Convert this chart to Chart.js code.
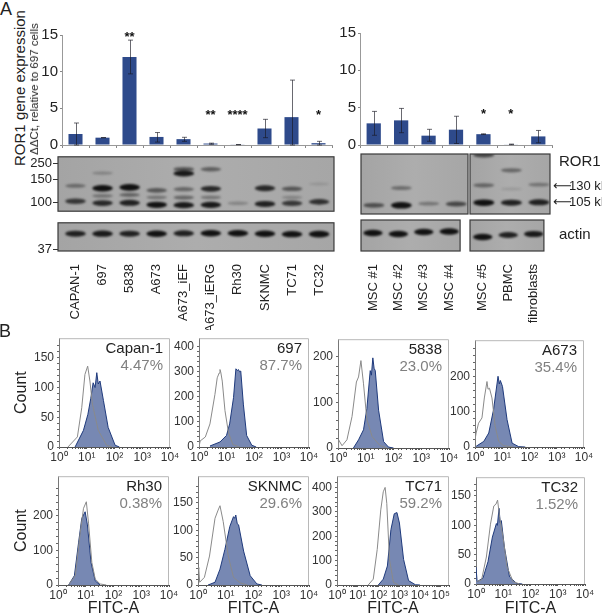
<!DOCTYPE html>
<html>
<head>
<meta charset="utf-8">
<title>ROR1 expression</title>
<script src="https://cdn.jsdelivr.net/npm/chart.js@4"></script>
<style>
html, body { margin: 0; background: #fff; overflow: hidden; width: 602px; height: 616px; }
canvas { position: absolute; }
.lbl { position: absolute; white-space: nowrap; color: #222; font-family: 'Liberation Sans Narrow', 'Liberation Sans', sans-serif; }
</style>
</head>
<body>
<script>
const NARROW = "'Liberation Sans Narrow', 'Liberation Sans', sans-serif";

// bar values, part A
const tumourLanes = ['CAPAN-1', '697', '5838', 'A673', 'A673_iEF', 'A673_iERG', 'Rh30', 'SKNMC', 'TC71', 'TC32'];
const tumourExpr = [1.5, 1.0, 12, 1.1, 0.8, 0.2, 0.05, 2.25, 3.8, 0.25];
const tumourHigh = [3.0, 1.0, 14.3, 1.7, 1.05, 0.25, 0.05, 3.5, 8.85, 0.5];
const tumourLow = [0, 1.0, 9.7, 0.4, 0.5, 0.1, 0.05, 1.0, 0, 0];
const tumourStars = ['', '', '**', '', '', '**', '****', '', '', '*'];
const tumourStarAt = [0, 0, 14.9, 0, 0, 4.3, 4.3, 0, 0, 4.3];

const normalLanes = ['MSC #1', 'MSC #2', 'MSC #3', 'MSC #4', 'MSC #5', 'PBMC', 'fibroblasts'];
const normalExpr = [2.9, 3.3, 1.25, 2.05, 1.45, 0.08, 1.15];
const normalHigh = [4.5, 4.9, 2.1, 3.85, 1.5, 0.12, 1.95];
const normalLow = [1.3, 1.65, 0.5, 0.2, 1.4, 0.05, 0.3];
const normalStars = ['', '', '', '', '*', '*', ''];
const normalStarAt = [0, 0, 0, 0, 4.3, 4.3, 0];

// western blot bands: [lane, migration, darkness]
const ror1Bands = [
  [0, 32, .35], [0, 49, .7],
  [1, 18, .2], [1, 34.7, 1], [1, 43, .3], [1, 51, .8],
  [2, 33.7, 1], [2, 42, .4], [2, 50.7, .85],
  [3, 37, .5], [3, 44.7, .3], [3, 53, .95],
  [4, 13.7, .5], [4, 18.3, .9], [4, 35.7, .4], [4, 45, .4], [4, 53.3, .9],
  [5, 13.7, .45], [5, 35.3, .8], [5, 44.7, .3], [5, 53, .9],
  [6, 51.3, .2],
  [7, 34.7, .8], [7, 52, .85],
  [8, 35.3, .5], [8, 44.7, .2], [8, 51.3, .7],
  [9, 49.7, .75], [9, 30, .07]
];
const actinBands = [[0, 12, .85], [1, 12, .9], [2, 12, .85], [3, 12, 1], [4, 11.5, .85], [5, 11.5, 1], [6, 11.5, 1], [7, 12, .95], [8, 12.5, .95], [9, 12.5, 1]];
const mscBands = [[0, 51.3, .55], [1, 34, .35], [1, 51.3, 1], [2, 49.7, .3], [3, 50, .6]];
const mscActin = [[0, 13, 1], [1, 14, 1], [2, 12, .95], [3, 11.5, 1]];
const otherBands = [[0, 1, .6], [0, 31.3, .4], [0, 48.7, 1], [1, 16.3, .4], [1, 35, .07], [1, 48.7, .85], [2, 30.7, .3], [2, 48.3, .85]];
const otherActin = [[0, 17, .95], [1, 15, .85], [2, 14, .9]];
const mwTop = [[7, '250'], [25, '150'], [50, '100']];
const mwActin = [[29, '37']];

// flow cytometry histograms, part B: fluorescence (x) and count (y)
const capanIsoX = [2.1, 4.6, 6.6, 8.6, 10.8, 13, 16, 26, 52, 80];
const capanIsoY = [0, 17, 66, 122, 136, 111, 72, 28, 3, 0];
const capanRorX = [3.8, 7.6, 11, 14, 17, 20, 23, 26, 30, 40, 59, 105, 150];
const capanRorY = [0, 28, 55, 82, 108, 100, 125, 106, 111, 78, 33, 3, 0];

const b697IsoX = [1, 1.1, 1.7, 2.5, 3.8, 4.6, 5.4, 5.8, 6.2, 7, 8.8, 11.7, 17, 30];
const b697IsoY = [0, 24, 40, 92, 210, 276, 295, 309, 298, 263, 145, 59, 10, 0];
const b697RorX = [2.5, 5.8, 10, 13, 18, 22, 25, 27, 30, 33, 41, 54, 83, 120];
const b697RorY = [4, 20, 46, 92, 197, 312, 305, 309, 300, 303, 171, 46, 7, 0];

const b5838IsoX = [1, 1.05, 1.4, 2.1, 3.2, 4.6, 5.5, 6.7, 8.3, 11, 17, 33, 60];
const b5838IsoY = [0, 18, 5, 18, 69, 145, 156, 192, 141, 62, 25, 5, 0];
const b5838RorX = [3.6, 5.5, 8.3, 11, 14.5, 16, 18, 20, 22, 29, 44, 66, 100];
const b5838RorY = [0, 18, 40, 87, 170, 160, 198, 175, 170, 83, 14, 2, 0];

const a673IsoX = [1, 1.1, 1.35, 1.8, 2.2, 2.75, 3, 3.4, 4.2, 5.5, 7.4, 11, 25];
const a673IsoY = [20, 40, 68, 83, 140, 187, 165, 168, 140, 59, 16, 4, 0];
const a673RorX = [1.1, 2.1, 3.2, 4.8, 7, 7.8, 8.5, 10.2, 15, 23, 40, 70];
const a673RorY = [2, 16, 40, 107, 202, 180, 190, 173, 78, 11, 1, 0];

const rh30IsoX = [2.4, 4.2, 6.3, 8.3, 10.5, 12.6, 16.6, 22, 33, 55];
const rh30IsoY = [0, 27, 150, 222, 241, 179, 65, 17, 3, 0];
const rh30RorX = [2.4, 3.9, 5.5, 7.2, 9.5, 11.5, 15.5, 22, 33];
const rh30RorY = [0, 27, 122, 193, 212, 174, 65, 12, 0];

const sknmcIsoX = [1, 1.07, 1.15, 1.7, 2.6, 4.1, 5.3, 6.2, 8.1, 12.3, 19, 33, 60];
const sknmcIsoY = [32, 29, 5, 14, 53, 122, 137, 145, 116, 53, 14, 4, 0];
const sknmcRorX = [2.3, 4.1, 6.2, 9.3, 14, 19, 21, 23, 26, 29, 44, 76, 132, 200];
const sknmcRorY = [0, 5, 29, 65, 107, 125, 122, 128, 112, 110, 62, 17, 2, 0];

const tc71IsoX = [32, 56, 87, 129, 170, 209, 251, 339, 525, 933];
const tc71IsoY = [0, 24, 146, 308, 382, 400, 335, 105, 11, 0];
const tc71RorX = [98, 170, 269, 398, 575, 776, 1023, 1622, 2818, 6026, 10000];
const tc71RorY = [0, 24, 78, 227, 292, 297, 254, 105, 18, 1, 0];

const tc32IsoX = [1.03, 1.6, 2.4, 3.4, 4.5, 5.4, 6.2, 7.4, 9.8, 13.8, 23, 40];
const tc32IsoY = [4, 7, 46, 102, 133, 136, 143, 113, 80, 29, 4, 0];
const tc32RorX = [1, 1.1, 1.8, 2.75, 4, 5.6, 6.1, 7, 7.7, 8.5, 11, 17, 31, 50];
const tc32RorY = [29, 4, 10, 38, 80, 103, 100, 129, 105, 108, 63, 12, 1, 0];

function label(text, x, y, size, opt) {
  opt = opt || {};
  const d = document.createElement('div');
  d.className = 'lbl';
  d.textContent = text;
  d.style.left = x + 'px';
  d.style.top = y + 'px';
  d.style.fontSize = size + 'px';
  if (opt.font) d.style.fontFamily = opt.font;
  const ax = opt.left ? '0' : '-50%';
  d.style.transform = 'translate(' + ax + ',-50%)' + (opt.rot ? ' rotate(-90deg)' : '');
  document.body.appendChild(d);
}

// puts the plot area exactly on plot, with the canvas covering box
function addChart(box, plot, config) {
  const c = document.createElement('canvas');
  c.width = box.r - box.l;
  c.height = box.b - box.t;
  c.style.left = box.l + 'px';
  c.style.top = box.t + 'px';
  document.body.appendChild(c);
  config.options.responsive = false;
  config.options.animation = false;
  config.options.layout = { padding: { top: plot.t - box.t, right: box.r - plot.r } };
  config.options.scales.x.afterFit = s => { s.height = box.b - plot.b };
  config.options.scales.y.afterFit = s => { s.width = plot.l - box.l };
  return new Chart(c, config);
}

const errorBars = {
  id: 'errorBars',
  afterDatasetsDraw(chart, args, opts) {
    const { ctx, scales: { x, y } } = chart;
    ctx.save();
    ctx.strokeStyle = 'rgba(25,25,35,.65)';
    ctx.lineWidth = 1;
    opts.high.forEach((h, i) => {
      const px = Math.round(x.getPixelForValue(i)) + .5;
      const top = y.getPixelForValue(h), low = y.getPixelForValue(opts.low[i]);
      ctx.beginPath();
      ctx.moveTo(px, top); ctx.lineTo(px, low);
      ctx.moveTo(px - 2.5, top); ctx.lineTo(px + 2.5, top);
      ctx.moveTo(px - 2.5, low); ctx.lineTo(px + 2.5, low);
      ctx.stroke();
    });
    ctx.fillStyle = '#111';
    ctx.font = 'bold 13px "Liberation Sans"';
    ctx.textAlign = 'center';
    ctx.textBaseline = 'middle';
    opts.stars.forEach((s, i) => {
      if (s) ctx.fillText(s, x.getPixelForValue(i), y.getPixelForValue(opts.starAt[i]) + 2);
    });
    ctx.restore();
  }
};

function barChart(box, plot, lanes, expr, high, low, stars, starAt) {
  addChart(box, plot, {
    type: 'bar',
    data: { labels: lanes, datasets: [{ data: expr, backgroundColor: '#2e4a8b', categoryPercentage: 1, barPercentage: 0.52 }] },
    plugins: [errorBars],
    options: {
      plugins: { legend: { display: false }, tooltip: { enabled: false }, errorBars: { high, low, stars, starAt } },
      scales: {
        x: {
          ticks: { display: false },
          grid: { drawOnChartArea: false, tickLength: 3, color: '#888' },
          border: { color: '#999' }
        },
        y: {
          min: 0, max: 15,
          ticks: { stepSize: 5, padding: 2, color: '#222', font: { family: NARROW, size: 15 } },
          grid: { drawOnChartArea: false, tickLength: 2, color: '#888' },
          border: { color: '#999' }
        }
      }
    }
  });
}

const blotPaint = {
  id: 'blotPaint',
  beforeDatasetsDraw(chart) {
    const { ctx, chartArea: a } = chart;
    const g = ctx.createLinearGradient(a.left, 0, a.right, 0);
    g.addColorStop(0, '#a4a4a4');
    g.addColorStop(.5, '#adadad');
    g.addColorStop(1, '#a6a6a6');
    ctx.fillStyle = g;
    ctx.fillRect(a.left, a.top, a.right - a.left, a.bottom - a.top);
  },
  afterDatasetsDraw(chart) {
    const { ctx, chartArea: a, scales: { x } } = chart;
    const lane = Math.abs(x.getPixelForValue(1) - x.getPixelForValue(0));
    ctx.save();
    ctx.beginPath();
    ctx.rect(a.left, a.top, a.right - a.left, a.bottom - a.top);
    ctx.clip();
    ctx.filter = 'blur(1.1px)';
    chart.getDatasetMeta(0).data.forEach((p, i) => {
      const ink = chart.data.datasets[0].data[i].ink;
      ctx.fillStyle = 'rgba(18,18,18,' + Math.min(1, ink + .05) + ')';
      ctx.beginPath();
      ctx.ellipse(p.x, p.y, lane * .38, 1.3 + ink * 2, 0, 0, Math.PI * 2);
      ctx.fill();
    });
    ctx.restore();
    ctx.strokeStyle = '#3a3a3a';
    ctx.lineWidth = 1.2;
    ctx.strokeRect(a.left, a.top, a.right - a.left, a.bottom - a.top);
  }
};

function blotChart(box, plot, xMin, xMax, lanes, bands, marks, showLanes) {
  addChart(box, plot, {
    type: 'scatter',
    data: { datasets: [{ data: bands.map(b => ({ x: b[0], y: b[1], ink: b[2] })), pointRadius: 0 }] },
    plugins: [blotPaint],
    options: {
      plugins: { legend: { display: false }, tooltip: { enabled: false } },
      scales: {
        x: {
          type: 'linear', min: xMin, max: xMax,
          afterBuildTicks: s => { s.ticks = lanes.map((n, i) => ({ value: i })) },
          ticks: {
            display: !!showLanes, autoSkip: false, minRotation: 90, maxRotation: 90, padding: 5,
            color: '#222', font: { family: NARROW, size: 13 },
            callback: v => lanes[v]
          },
          grid: { display: false },
          border: { display: false }
        },
        y: {
          reverse: true, min: 0, max: plot.b - plot.t,
          afterBuildTicks: s => { s.ticks = marks.map(m => ({ value: m[0] })) },
          ticks: {
            display: marks.length > 0, autoSkip: false, padding: 1,
            color: '#222', font: { family: NARROW, size: 13 },
            callback: v => marks.find(m => m[0] === v)[1]
          },
          grid: { drawOnChartArea: false, tickLength: 5, color: '#333', display: marks.length > 0 },
          border: { display: false }
        }
      }
    }
  });
}

const histPaint = {
  id: 'histPaint',
  beforeDatasetsDraw(chart) {
    const { ctx, chartArea: a } = chart;
    ctx.strokeStyle = '#b8b8b8';
    ctx.lineWidth = 1;
    ctx.beginPath();
    ctx.moveTo(a.left, a.top + .5);
    ctx.lineTo(a.right - .5, a.top + .5);
    ctx.lineTo(a.right - .5, a.bottom);
    ctx.stroke();
  },
  afterDatasetsDraw(chart, args, opts) {
    const { ctx, chartArea: a } = chart;
    ctx.textAlign = 'right';
    ctx.textBaseline = 'middle';
    ctx.font = '15px ' + NARROW;
    ctx.fillStyle = '#222';
    ctx.fillText(opts.name, a.right - 7, a.top + 11);
    ctx.fillStyle = '#808080';
    ctx.fillText(opts.pct, a.right - 7, a.top + 28);
  }
};

const superDigits = '⁰¹²³⁴⁵';

function histogram(plot, yMax, major, xMax, name, pct, isoX, isoY, rorX, rorY, opt) {
  opt = opt || {};
  const box = { l: opt.count ? 12 : plot.l - 32, r: plot.r + 12, t: plot.t - 9, b: opt.fitc ? 618 : plot.b + 22 };
  addChart(box, plot, {
    type: 'line',
    data: {
      datasets: [
        { data: isoX.map((v, i) => ({ x: v, y: isoY[i] })), borderColor: '#8a8a8a', borderWidth: 1, pointRadius: 0, fill: false },
        { data: rorX.map((v, i) => ({ x: v, y: rorY[i] })), borderColor: '#1f3a7c', borderWidth: 1, pointRadius: 0, fill: 'origin', backgroundColor: '#7788b3' }
      ]
    },
    plugins: [histPaint],
    options: {
      plugins: { legend: { display: false }, tooltip: { enabled: false }, histPaint: { name, pct } },
      scales: {
        x: {
          type: 'logarithmic', min: 1, max: xMax,
          title: { display: !!opt.fitc, text: 'FITC-A', color: '#222', padding: 0, font: { family: NARROW, size: 16 } },
          ticks: {
            autoSkip: false, maxRotation: 0, padding: 1, color: '#333', font: { family: NARROW, size: 12 },
            callback: v => {
              const e = Math.log10(v);
              return Math.abs(e - Math.round(e)) < 1e-9 ? '10' + superDigits[Math.round(e)] : '';
            }
          },
          grid: { drawOnChartArea: false, tickLength: 2, color: '#555' },
          border: { color: '#555' }
        },
        y: {
          min: 0, max: yMax,
          afterBuildTicks: s => { s.ticks = s.ticks.filter(t => t.value % (major / 5) === 0) },
          title: { display: !!opt.count, text: 'Count', color: '#222', padding: 0, font: { family: NARROW, size: 16 } },
          ticks: {
            stepSize: major / 5, autoSkip: false, padding: 3, color: '#333', font: { family: NARROW, size: 12 },
            callback: v => v % major === 0 ? v : ''
          },
          grid: { drawOnChartArea: false, tickLength: 2, color: '#666' },
          border: { color: '#777' }
        }
      }
    }
  });
}

// part A
barChart({ l: 36, r: 345, t: 24, b: 156 }, { l: 62, r: 332, t: 34.5, b: 146 }, tumourLanes, tumourExpr, tumourHigh, tumourLow, tumourStars, tumourStarAt);
barChart({ l: 340, r: 560, t: 22, b: 156 }, { l: 360, r: 552, t: 32, b: 147 }, normalLanes, normalExpr, normalHigh, normalLow, normalStars, normalStarAt);

blotChart({ l: 30, r: 340, t: 148, b: 220 }, { l: 58, r: 334, t: 154, b: 214 }, -0.646, 9.55, tumourLanes, ror1Bands, mwTop);
blotChart({ l: 30, r: 340, t: 214, b: 330 }, { l: 58, r: 334, t: 220, b: 251 }, -0.646, 9.55, tumourLanes, actinBands, mwActin, true);
blotChart({ l: 355, r: 470, t: 148, b: 220 }, { l: 361, r: 468, t: 154, b: 214 }, -0.47, 3.43, normalLanes.slice(0, 4), mscBands, []);
blotChart({ l: 355, r: 470, t: 214, b: 330 }, { l: 361, r: 468, t: 220, b: 251 }, -0.47, 3.43, normalLanes.slice(0, 4), mscActin, [], true);
blotChart({ l: 466, r: 555, t: 148, b: 220 }, { l: 470, r: 550, t: 154, b: 214 }, -0.5, 2.4, normalLanes.slice(4), otherBands, []);
blotChart({ l: 466, r: 555, t: 214, b: 330 }, { l: 470, r: 550, t: 220, b: 251 }, -0.5, 2.4, normalLanes.slice(4), otherActin, [], true);

// part B
histogram({ l: 59, r: 170, t: 337, b: 447 }, 183, 50, 1e4, 'Capan-1', '4.47%', capanIsoX, capanIsoY, capanRorX, capanRorY, { count: true });
histogram({ l: 199, r: 309, t: 337, b: 447 }, 434, 100, 1e4, '697', '87.7%', b697IsoX, b697IsoY, b697RorX, b697RorY);
histogram({ l: 338, r: 449, t: 338, b: 448 }, 239, 100, 1e4, '5838', '23.0%', b5838IsoX, b5838IsoY, b5838RorX, b5838RorY);
histogram({ l: 475, r: 584, t: 339, b: 447 }, 305, 100, 1e4, 'A673', '35.4%', a673IsoX, a673IsoY, a673RorX, a673RorY);
histogram({ l: 58, r: 169, t: 475, b: 585 }, 315, 100, 1e4, 'Rh30', '0.38%', rh30IsoX, rh30IsoY, rh30RorX, rh30RorY, { count: true, fitc: true });
histogram({ l: 198, r: 309, t: 475, b: 585 }, 199, 50, 1e4, 'SKNMC', '29.6%', sknmcIsoX, sknmcIsoY, sknmcRorX, sknmcRorY, { fitc: true });
histogram({ l: 337, r: 449, t: 475, b: 585 }, 446, 100, 251000, 'TC71', '59.2%', tc71IsoX, tc71IsoY, tc71RorX, tc71RorY, { fitc: true });
histogram({ l: 476, r: 585, t: 476, b: 584 }, 182, 50, 1e4, 'TC32', '1.52%', tc32IsoX, tc32IsoY, tc32RorX, tc32RorY, { fitc: true });

label('A', 6, 9, 18, { font: 'Liberation Sans' });
label('B', 5, 331, 18, { font: 'Liberation Sans' });
label('ROR1 gene expression', 19, 88, 15, { rot: true });
label('ΔΔCt, relative to 697 cells', 34, 89, 11.5, { rot: true });
label('ROR1', 559, 160, 15, { left: true });
label('actin', 559, 233, 15, { left: true });
label('⟵', 553, 185, 13, { left: true, font: 'DejaVu Sans' });
label('130 kDa', 569, 185, 13, { left: true });
label('⟵', 553, 201, 13, { left: true, font: 'DejaVu Sans' });
label('105 kDa', 569, 201, 13, { left: true });
</script>
</body>
</html>
